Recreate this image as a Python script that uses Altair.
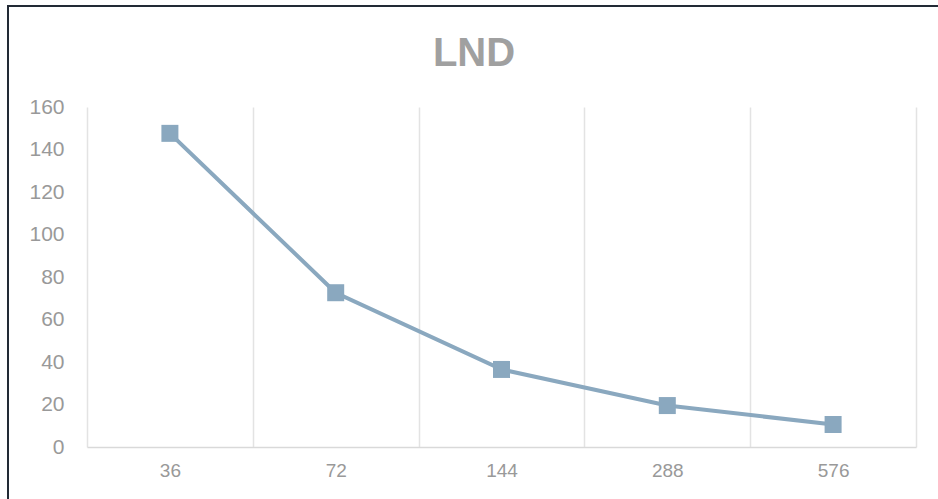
import altair as alt
import pandas as pd

categories = ["36", "72", "144", "288", "576"]
values = [147.6, 72.6, 36.5, 19.5, 10.6]
y_ticks = [0, 20, 40, 60, 80, 100, 120, 140, 160]
title_text = "LND"

df = pd.DataFrame({"cat": categories, "val": values})

color = "#8aa8bf"
font = "Liberation Sans"

x = alt.X(
    "cat:N",
    sort=categories,
    scale=alt.Scale(type="band", paddingInner=0, paddingOuter=0),
    bandPosition=0.5,
    axis=alt.Axis(
        title=None, labelAngle=0, grid=True, tickBand="extent", ticks=False,
        gridColor="#e3e3e3", gridWidth=1.5, domainColor="#d9d9d9", domainWidth=1.5,
        labelColor="#999999", labelFontSize=19, labelFont=font, labelPadding=14,
    ),
)
y = alt.Y(
    "val:Q",
    scale=alt.Scale(domain=[0, 160], nice=False),
    axis=alt.Axis(
        title=None, values=y_ticks, grid=False, domain=False, ticks=False,
        labelColor="#999999", labelFontSize=21, labelFont=font, labelPadding=23,
    ),
)

line = alt.Chart(df).mark_line(color=color, strokeWidth=4).encode(x=x, y=y)
pts = alt.Chart(df).mark_point(shape="square", size=289, filled=True, opacity=1, color=color).encode(x=x, y=y)

title = alt.Chart(pd.DataFrame({"t": [title_text]})).mark_text(
    font=font, fontSize=40, fontWeight="bold", color="#a0a0a0",
    align="center", baseline="alphabetic",
).encode(text="t:N", x=alt.value(387), y=alt.value(-41))

border_left = alt.Chart(df).mark_rule(color="#222a35", strokeWidth=2).encode(
    x=alt.value(-79), y=alt.value(-101), y2=alt.value(420)
)
border_top = alt.Chart(df).mark_rule(color="#222a35", strokeWidth=2).encode(
    x=alt.value(-80), x2=alt.value(860), y=alt.value(-101)
)

chart = alt.layer(border_left, border_top, line, pts, title).properties(
    width=829,
    height=340,
    autosize=alt.AutoSizeParams(type="none"),
    padding={"left": 87, "top": 107, "right": 22, "bottom": 52},
).configure_view(stroke=None)

chart.save("out.html", embed_options={"renderer": "svg", "actions": False})
